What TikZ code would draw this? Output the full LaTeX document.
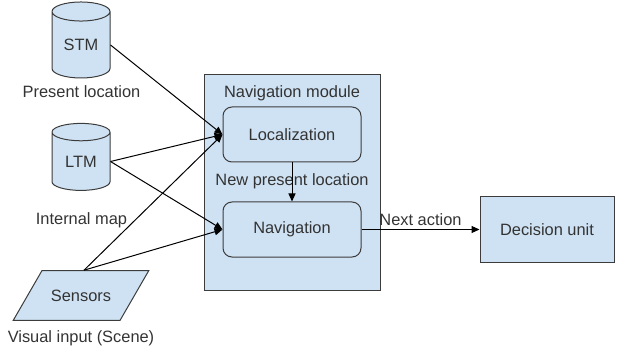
\documentclass[tikz,border=0pt]{standalone}
\usepackage{fontspec}
\setmainfont{Liberation Sans}
\usetikzlibrary{shapes.geometric,arrows.meta}
\definecolor{boxfill}{HTML}{CFE2F3}
\definecolor{boxline}{HTML}{3C3C3C}
\definecolor{labeltext}{HTML}{333333}

\begin{document}
\begin{tikzpicture}[x=1pt,y=-1pt,
    font=\fontsize{16.4}{19}\selectfont, text=labeltext,
    storage/.style ={cylinder, shape border rotate=90, aspect=0.55, draw=boxline, fill=boxfill, line width=1pt, minimum width=58pt, inner sep=0pt},
    block/.style ={rectangle, rounded corners=9pt, draw=boxline, fill=boxfill, line width=1pt, minimum width=138pt, minimum height=55pt},
    unit/.style ={rectangle, draw=boxline, fill=boxfill, line width=1pt},
    sensor/.style ={trapezium, trapezium left angle=60, trapezium right angle=120, draw=boxline, fill=boxfill, line width=1pt, inner xsep=9pt, inner ysep=19pt},
    flow/.style ={line width=1pt, -{Triangle[length=8pt,width=7pt]}}]
   \useasboundingbox (0,0) rectangle (617,352);

   \node[unit, minimum width=176pt, minimum height=215pt] (mod) at (292,182.5) {};
   \node (modname) at (292,93) {Navigation module};
   \node[block] (loc) at (292,134.5) {Localization};
   \node[block] (nav) at (292,229.5) {Navigation};
   \node (newloc) at (292,181) {New present location};
   \node[unit, minimum width=134pt, minimum height=65pt] (dec) at (547,229.5) {Decision unit};

   \node[storage, minimum height=76pt] (stm) at (81,45) {STM};
   \node (stmname) at (81.5,92) {Present location};
   \node[storage, minimum height=67pt] (ltm) at (81,161.5) {LTM};
   \node (ltmname) at (81.5,220) {Internal map};
   \node[sensor] (sen) at (81,295.5) {Sensors};
   \node (senname) at (81,338) {Visual input (Scene)};

   \draw[flow] (stm.east) to (loc.west);
   \draw[flow] (ltm.east) to (loc.west);
   \draw[flow] (ltm.east) to (nav.west);
   \draw[flow] ([xshift=3pt]sen.north) to (loc.west);
   \draw[flow] ([xshift=3pt]sen.north) to (nav.west);

   \draw[flow] (loc) to (nav);
   \draw[flow] (nav) to node[above] {Next action} (dec);
 \end{tikzpicture}
\end{document}
